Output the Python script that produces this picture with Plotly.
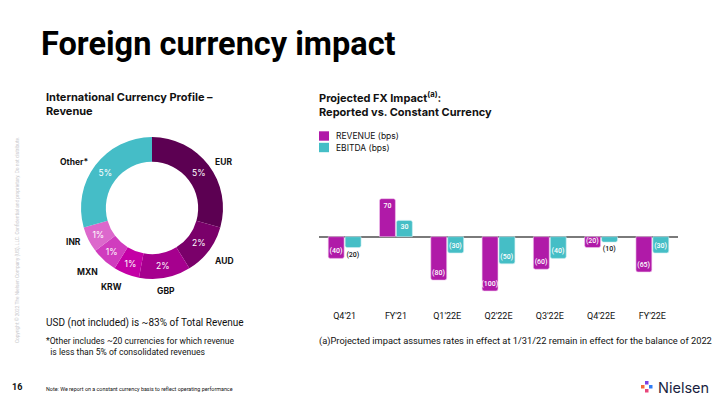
import math
import plotly.graph_objects as go

# ---------------- data ----------------
currencies = ["EUR", "AUD", "GBP", "KRW", "MXN", "INR", "Other*"]
currency_share = [5, 2, 2, 1, 1, 1, 5]
currency_colors = ["#5C0052", "#7A006A", "#A6008E", "#C400A6", "#D03CBE", "#DC68CC", "#45BDC7"]

periods = ["Q4'21", "FY'21", "Q1'22E", "Q2'22E", "Q3'22E", "Q4'22E", "FY'22E"]
revenue_bps = [-40, 70, -80, -100, -60, -20, -65]
ebitda_bps = [-20, 30, -30, -50, -40, -10, -30]
series_names = ["REVENUE (bps)", "EBITDA (bps)"]

REV_COLOR = "#B01AA8"
EBITDA_COLOR = "#45BEC6"
FONT = "Roboto"
HFONT = "Inter"
W, H = 720, 405


def fmt(v):
    return f"({abs(v)})" if v < 0 else str(v)


fig = go.Figure()

# ---------------- donut ----------------
pie_x = [81 / W, 223 / W]
pie_y = [1 - 279 / H, 1 - 137 / H]
fig.add_trace(go.Pie(
    labels=currencies, values=currency_share,
    text=[f"{v}%" for v in currency_share], texttemplate="%{text}",
    textinfo="text", textposition="inside", insidetextorientation="horizontal",
    textfont=dict(family=HFONT, size=8.5, color="white"),
    marker=dict(colors=currency_colors, line=dict(width=0)),
    hole=0.65, sort=False, direction="clockwise", rotation=0,
    domain=dict(x=pie_x, y=pie_y), showlegend=False, hoverinfo="label+value",
))

# outside category labels, placed at each slice's mid-angle
cx = (pie_x[0] + pie_x[1]) / 2 * W
cy = (1 - (pie_y[0] + pie_y[1]) / 2) * H
total = sum(currency_share)
acc = 0
annos = []
for lab, v in zip(currencies, currency_share):
    mid = (acc + v / 2) / total * 2 * math.pi
    acc += v
    s, c = math.sin(mid), math.cos(mid)
    R = 77
    px = cx + R * s
    py = cy - R * c
    xa = "left" if s > 0.35 else ("right" if s < -0.35 else "center")
    ya = "bottom" if c > 0.8 else ("top" if c < -0.6 else "middle")
    annos.append(dict(x=px / W, y=1 - py / H, xref="paper", yref="paper",
                      text=f"<b>{lab}</b>", showarrow=False,
                      font=dict(family=HFONT, size=8.5, color="#111"),
                      xanchor=xa, yanchor=ya))

# ---------------- bars ----------------
rev_pos = ["inside" if abs(v) >= 20 else "outside" for v in revenue_bps]
eb_pos = ["inside" if abs(v) > 20 else "outside" for v in ebitda_bps]
for vals, pos, col, edge, name in [
    (revenue_bps, rev_pos, REV_COLOR, "#F2C8EE", series_names[0]),
    (ebitda_bps, eb_pos, EBITDA_COLOR, "#CDEFF1", series_names[1]),
]:
    fig.add_trace(go.Bar(
        x=periods, y=vals, name=name, showlegend=False,
        marker=dict(color=col, cornerradius=2, line=dict(width=0.6, color=edge)),
        text=[fmt(v) for v in vals], texttemplate="%{text}",
        textposition=pos, insidetextanchor="end", constraintext="none", textangle=0,
        textfont=dict(family=FONT, size=7, weight=500,
                      color=["white" if p == "inside" else "#111" for p in pos]),
        xaxis="x", yaxis="y",
    ))

# ---------------- texts ----------------
def txt(x, y, s, size, color="#111", xanchor="left", yanchor="middle", angle=0,
        align="left", family=FONT):
    annos.append(dict(x=x / W, y=1 - y / H, xref="paper", yref="paper", text=s,
                      showarrow=False, xanchor=xanchor, yanchor=yanchor, align=align,
                      textangle=angle, font=dict(family=family, size=size, color=color)))

txt(39, 44, "<b>Foreign currency impact</b>", 32.5, "#000")
txt(44, 104, "<b>International Currency Profile –<br>Revenue</b>", 11, family=HFONT)
txt(317, 104, "<b>Projected FX Impact<sup>(a)</sup>:<br>Reported vs. Constant Currency</b>", 11, family=HFONT)
txt(44, 323, "USD (not included) is ~83% of Total Revenue", 10)
txt(44, 346, "*Other includes ~20 currencies for which revenue<br>  is less than 5% of consolidated revenues", 8.6)
txt(317, 341, "(a)Projected impact assumes rates in effect at 1/31/22 remain in effect for the balance of 2022", 9.3)
txt(10, 387, "<b>16</b>", 9)
txt(44, 389, "Note: We report on a constant currency basis to reflect operating performance", 5.4)
txt(656, 387, "Nielsen", 14.5, "#1A1F3F", family=HFONT)
txt(17, 240, "Copyright © 2022 The Nielsen Company (US), LLC. Confidential and proprietary. Do not distribute.",
    4.8, "#C8C8CC", xanchor="center", angle=-90)

shapes = []
# manual legend (compact, like the reference)
for i, (name, col) in enumerate(zip(series_names, [REV_COLOR, EBITDA_COLOR])):
    yc = 136 + i * 11.5
    shapes.append(dict(type="rect", xref="paper", yref="paper",
                       x0=319 / W, x1=329 / W, y0=1 - (yc + 4.7) / H, y1=1 - (yc - 4.7) / H,
                       fillcolor=col, line=dict(width=0)))
    txt(334, yc, name, 8.5, family=HFONT)

# Nielsen mark: four small tiles
for (x0, y0, c) in [(641, 385, "#F26B3A"), (645, 381, "#7B3FE4"), (649, 385, "#2F7CF6"), (645, 389, "#E8457A")]:
    shapes.append(dict(type="rect", xref="paper", yref="paper",
                       x0=x0 / W, x1=(x0 + 3.5) / W, y0=1 - (y0 + 3.5) / H, y1=1 - y0 / H,
                       fillcolor=c, line=dict(width=0)))

fig.update_layout(
    width=W, height=H, margin=dict(l=0, r=0, t=0, b=0),
    paper_bgcolor="white", plot_bgcolor="white",
    font=dict(family=FONT, color="#111"),
    barmode="group", bargap=0.34, bargroupgap=0.06,
    xaxis=dict(domain=[319 / W, 678 / W], anchor="y", showline=False, ticks="",
               showgrid=False, tickfont=dict(family=FONT, size=9, color="#111")),
    yaxis=dict(domain=[1 - 308.9 / H, 1 - 187.8 / H], range=[-133, 90], showgrid=False,
               showticklabels=False, zeroline=True, zerolinecolor="#7A7A7A", zerolinewidth=2),
    showlegend=False,
    annotations=annos, shapes=shapes,
)

fig.write_html("out.html", config={"displayModeBar": False},
               post_script="document.body.style.margin='0';document.body.style.overflow='hidden';")
